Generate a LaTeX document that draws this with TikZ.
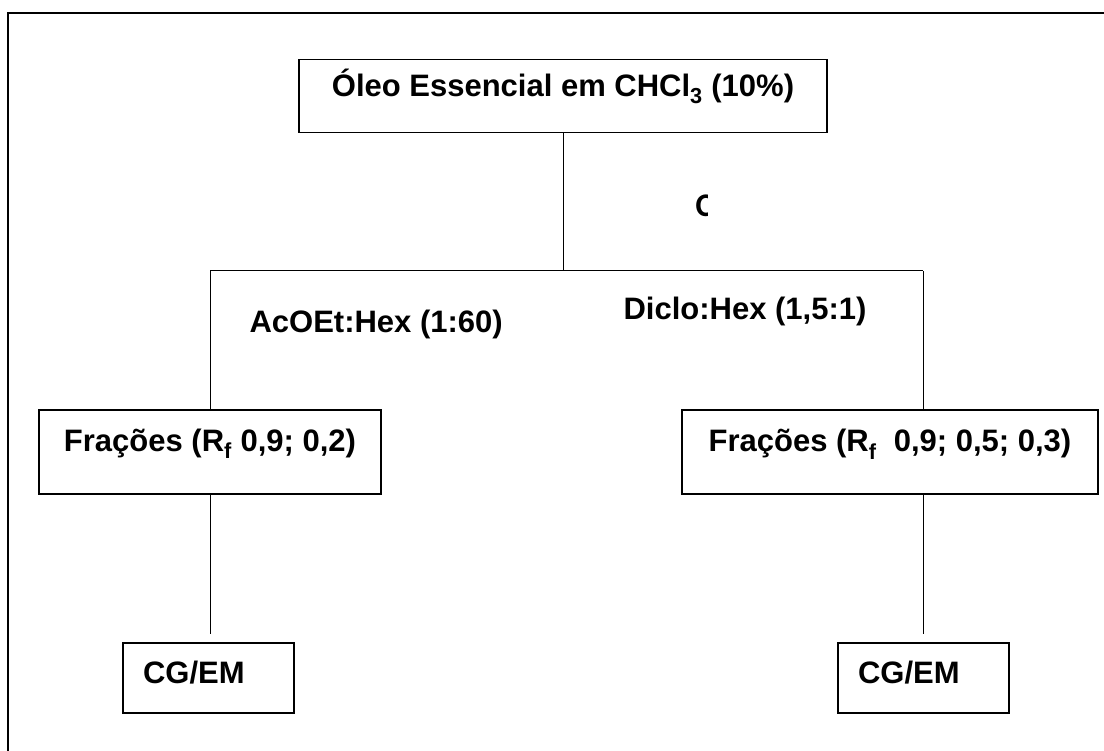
\documentclass[tikz,border=0pt]{standalone}
\usepackage{fontspec}
\setmainfont{Liberation Sans}
\newfontfamily\cfont{Carlito}
\begin{document}
\begin{tikzpicture}[x=1pt,y=-1pt,
  txt/.style={font=\fontsize{31}{37}\selectfont\bfseries},
  box/.style={txt,draw,line width=1.4pt,inner sep=0pt,outer sep=0pt,anchor=base},
  cgbox/.style={txt,draw,line width=1.4pt,inner xsep=20pt,inner ysep=0pt,outer sep=0pt,
    text width=131pt,align=left,text height=40pt,text depth=30pt,anchor=base west},
  conn/.style={line width=1pt}]
\useasboundingbox (0,0) rectangle (1104,751);
\draw[line width=2pt] (8,751) -- (8,12.7) -- (1104,12.7);

\draw (563,96.7) node[box,minimum width=528pt,text height=37.2pt,text depth=36pt] (oleo) {\'Oleo Essencial em CHCl\textsubscript{3} (10\%)};
\draw (210,451) node[box,minimum width=342pt,text height=41pt,text depth=43pt] (fracA) {Fra\c{c}\~oes (R\textsubscript{f} 0,9; 0,2)};
\draw (890,452) node[box,minimum width=416pt,text height=42pt,text depth=42pt] (fracD) {Fra\c{c}\~oes (R\textsubscript{f}\ \ 0,9; 0,5; 0,3)};
\draw (123,683) node[cgbox] (cgA) {CG/EM};
\draw (838,683) node[cgbox] (cgD) {CG/EM};

\draw (246,333) node[txt,anchor=base west] (acoet) {AcOEt:Hex (1:60)};
\draw (620,320) node[txt,anchor=base west] (diclo) {Diclo:Hex (1,5:1)};
%\draw (697,217) node[anchor=base west] {C};
\begin{scope}
\clip (690,185) rectangle (707.5,225);
\draw (695.5,217) node[anchor=base west,inner sep=0pt,font=\fontsize{33}{38}\selectfont\cfont\bfseries] (cut) {C};
\end{scope}

\coordinate (split) at (563,271);
\coordinate (jl) at (210,271);
\coordinate (jr) at (923,271);
\draw[conn] (oleo.south) -- (split);
\draw[conn] (jl) -- (jr);
\draw[conn] (jl) -- (fracA.north);
\draw[conn] (jr) -- (jr |- fracD.north);
\draw[conn,shorten >=9pt] (fracA.south) -- (fracA.south |- cgA.north);
\draw[conn,shorten >=9pt] (jr |- fracD.south) -- (jr |- cgD.north);
\end{tikzpicture}
\end{document}
